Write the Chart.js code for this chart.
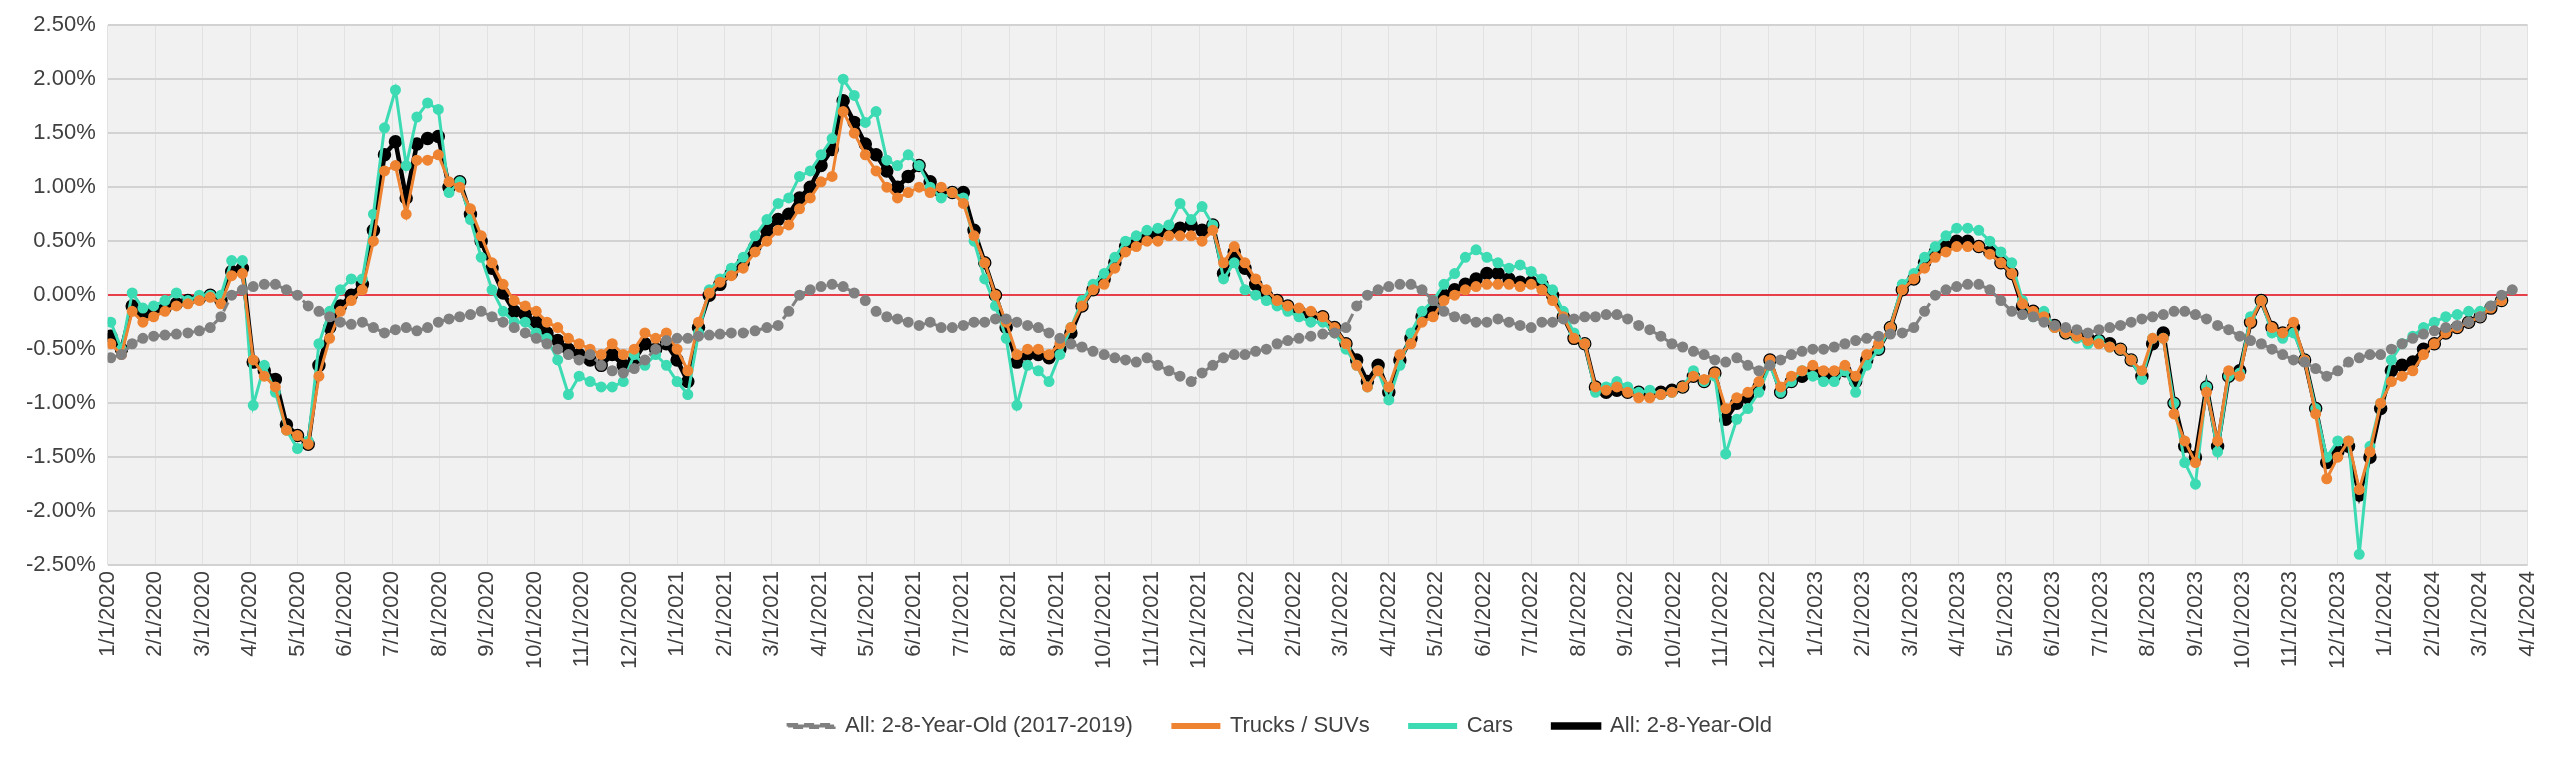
<!DOCTYPE html>
<html>
<head>
<meta charset="utf-8">
<script src="https://cdn.jsdelivr.net/npm/chart.js@4.4.1/dist/chart.umd.min.js"></script>
<style>
  html, body { margin: 0; padding: 0; background: #fff; }
  #wrap { width: 2560px; height: 757px; }
</style>
</head>
<body>
<div id="wrap"><canvas id="chartCanvas"></canvas></div>
<script>
// Month tick labels (x axis)
var monthLabels = []
for (var y = 2020; y <= 2024; y++) {
  for (var m = 1; m <= 12; m++) {
    if (y === 2024 && m > 4) break
    monthLabels.push(m + '/1/' + y)
  }
}

var firstWeek = new Date(2020, 0, 3)

// Weekly values, % change
var baseline = [
  -0.58,-0.55,-0.45,-0.40,-0.38,-0.37,-0.36,-0.35,-0.33,-0.30,-0.20,0.00,0.05,0.08,0.10,0.10,0.05,0.00,-0.10,-0.15,-0.20,-0.25,-0.27,-0.25,-0.30,-0.35,-0.32,-0.30,-0.33,-0.30,-0.25,-0.22,-0.20,-0.18,-0.15,-0.20,-0.25,-0.30,-0.35,-0.40,-0.45,-0.50,-0.55,-0.60,-0.55,-0.65,-0.70,-0.72,-0.68,-0.60,-0.50,-0.42,
  -0.40,-0.40,-0.38,-0.37,-0.36,-0.35,-0.35,-0.33,-0.30,-0.28,-0.15,0.00,0.05,0.08,0.10,0.08,0.02,-0.05,-0.15,-0.20,-0.22,-0.25,-0.28,-0.25,-0.30,-0.30,-0.28,-0.25,-0.25,-0.22,-0.22,-0.25,-0.28,-0.30,-0.35,-0.40,-0.45,-0.48,-0.52,-0.55,-0.58,-0.60,-0.62,-0.58,-0.65,-0.70,-0.75,-0.80,-0.72,-0.65,-0.58,-0.55,
  -0.55,-0.52,-0.50,-0.45,-0.42,-0.40,-0.38,-0.36,-0.35,-0.30,-0.10,0.00,0.05,0.08,0.10,0.10,0.05,-0.05,-0.15,-0.20,-0.22,-0.25,-0.25,-0.22,-0.25,-0.28,-0.30,-0.25,-0.25,-0.22,-0.22,-0.20,-0.20,-0.18,-0.18,-0.22,-0.28,-0.32,-0.38,-0.45,-0.48,-0.52,-0.55,-0.60,-0.62,-0.58,-0.65,-0.70,-0.65,-0.60,-0.55,-0.52,
  -0.50,-0.50,-0.48,-0.45,-0.42,-0.40,-0.38,-0.36,-0.35,-0.30,-0.15,0.00,0.05,0.08,0.10,0.10,0.05,-0.05,-0.15,-0.18,-0.20,-0.25,-0.28,-0.30,-0.32,-0.35,-0.32,-0.30,-0.28,-0.25,-0.22,-0.20,-0.18,-0.15,-0.15,-0.18,-0.22,-0.28,-0.32,-0.38,-0.42,-0.45,-0.50,-0.55,-0.60,-0.62,-0.68,-0.75,-0.70,-0.62,-0.58,-0.55,
  -0.55,-0.50,-0.45,-0.40,-0.36,-0.33,-0.30,-0.28,-0.25,-0.20,-0.10,0.00,0.05
]

var trucks = [
  -0.45,-0.55,-0.15,-0.25,-0.20, -0.15,-0.10,-0.08,-0.05, -0.02,-0.08,0.18,0.20,-0.60, -0.75,-0.85,-1.25,-1.30,
  -1.38,-0.75,-0.40,-0.15,-0.05, 0.05,0.50,1.15,1.20,0.75, 1.25,1.25,1.30,1.05, 1.00,0.80,0.55,0.30,0.10,
  -0.05,-0.10,-0.15,-0.25, -0.30,-0.40,-0.45,-0.50,-0.55, -0.45,-0.55,-0.50,-0.35, -0.40,-0.35,-0.50,-0.70,-0.25,
  0.02,0.12,0.18,0.25, 0.40,0.50,0.60,0.65, 0.80,0.90,1.05,1.10,1.70, 1.50,1.30,1.15,1.00, 0.90,0.95,1.00,0.95,
  1.00,0.95,0.85,0.55,0.30, 0.00,-0.25,-0.55,-0.50, -0.50,-0.55,-0.45,-0.30, -0.10,0.05,0.10,0.25,
  0.40,0.45,0.50,0.50,0.55, 0.55,0.55,0.50,0.60, 0.30,0.45,0.30,0.15,
  0.05,-0.05,-0.10,-0.12,-0.15, -0.20,-0.30,-0.45,-0.65, -0.85,-0.70,-0.85,-0.55, -0.45,-0.25,-0.20,-0.05,
  0.00,0.05,0.08,0.10,0.10, 0.10,0.08,0.10,0.05, -0.05,-0.20,-0.40,-0.45, -0.85,-0.88,-0.85,-0.90,
  -0.95,-0.95,-0.92,-0.90,-0.85, -0.75,-0.78,-0.72,-1.05, -0.95,-0.90,-0.80,-0.60, -0.85,-0.75,-0.70,-0.65,-0.70,
  -0.70,-0.65,-0.75,-0.55, -0.45,-0.30,0.05,0.15, 0.25,0.35,0.40,0.45,0.45, 0.45,0.38,0.30,0.20,
  -0.08,-0.15,-0.20,-0.30, -0.35,-0.38,-0.42,-0.45,-0.48, -0.50,-0.60,-0.70,-0.40, -0.40,-1.10,-1.35,-1.55,
  -0.90,-1.35,-0.70,-0.75, -0.25,-0.05,-0.30,-0.35,-0.25, -0.60,-1.10,-1.70,-1.50, -1.35,-1.80,-1.45,-1.00,
  -0.80,-0.75,-0.70,-0.55,-0.45, -0.35,-0.30,-0.25,-0.20, -0.12,-0.05
]

var cars = [
  -0.25,-0.50,0.02,-0.12,-0.10, -0.05,0.02,-0.05,0.00, 0.00,0.00,0.32,0.32,-1.02, -0.65,-0.90,-1.25,-1.42,
  -1.35,-0.45,-0.15,0.05,0.15, 0.15,0.75,1.55,1.90,1.20, 1.65,1.78,1.72,0.95, 1.05,0.70,0.35,0.05,-0.15,
  -0.25,-0.25,-0.35,-0.40, -0.60,-0.92,-0.75,-0.80,-0.85, -0.85,-0.80,-0.55,-0.65, -0.55,-0.65,-0.80,-0.92,-0.35,
  0.05,0.15,0.25,0.35, 0.55,0.70,0.85,0.90, 1.10,1.15,1.30,1.45,2.00, 1.85,1.60,1.70,1.25, 1.20,1.30,1.20,1.00,
  0.90,0.95,0.90,0.50,0.15, -0.10,-0.40,-1.02,-0.65, -0.70,-0.80,-0.55,-0.30, -0.05,0.10,0.20,0.35,
  0.50,0.55,0.60,0.62,0.65, 0.85,0.70,0.82,0.65, 0.15,0.30,0.05,0.00,
  -0.05,-0.10,-0.15,-0.20,-0.25, -0.25,-0.35,-0.50,-0.65, -0.85,-0.70,-0.97,-0.65, -0.35,-0.15,-0.05,0.10,
  0.20,0.35,0.42,0.35,0.30, 0.25,0.28,0.22,0.15, 0.05,-0.15,-0.35,-0.45, -0.90,-0.85,-0.80,-0.85,
  -0.90,-0.88,-0.92,-0.90,-0.85, -0.70,-0.80,-0.75,-1.47, -1.15,-1.05,-0.90,-0.65, -0.90,-0.80,-0.70,-0.75,-0.80,
  -0.80,-0.70,-0.90,-0.65, -0.50,-0.30,0.10,0.20, 0.35,0.45,0.55,0.62,0.62, 0.60,0.50,0.40,0.30,
  -0.05,-0.20,-0.15,-0.30, -0.35,-0.40,-0.45,-0.42,-0.48, -0.50,-0.60,-0.78,-0.40, -0.40,-1.00,-1.55,-1.75,
  -0.85,-1.45,-0.75,-0.72, -0.20,-0.05,-0.35,-0.40,-0.35, -0.60,-1.05,-1.50,-1.35, -1.35,-2.40,-1.40,-1.00,
  -0.60,-0.45,-0.38,-0.30,-0.25, -0.20,-0.18,-0.15,-0.15, -0.10,-0.05
]

var allAges = [
  -0.38,-0.50,-0.10,-0.18,-0.15, -0.12,-0.08,-0.05,-0.03, 0.00,-0.05,0.22,0.25,-0.62, -0.70,-0.78,-1.20,-1.30,
  -1.38,-0.65,-0.30,-0.10,0.00, 0.10,0.60,1.30,1.42,0.90, 1.40,1.45,1.47,1.00, 1.05,0.75,0.50,0.25,0.02,
  -0.15,-0.18,-0.25,-0.35, -0.42,-0.50,-0.55,-0.60,-0.65, -0.55,-0.65,-0.60,-0.45, -0.50,-0.45,-0.60,-0.80,-0.30,
  0.00,0.10,0.20,0.30, 0.45,0.60,0.70,0.75, 0.90,1.00,1.20,1.35,1.80, 1.60,1.40,1.30,1.15, 1.00,1.10,1.20,1.05,
  0.95,0.95,0.95,0.60,0.30, 0.00,-0.30,-0.62,-0.55, -0.55,-0.58,-0.50,-0.35, -0.10,0.05,0.15,0.30,
  0.45,0.50,0.55,0.58,0.60, 0.62,0.65,0.60,0.65, 0.20,0.40,0.25,0.10,
  0.00,-0.05,-0.10,-0.15,-0.18, -0.20,-0.30,-0.45,-0.60, -0.80,-0.65,-0.90,-0.60, -0.40,-0.20,-0.15,0.00,
  0.05,0.10,0.15,0.20,0.20, 0.15,0.12,0.12,0.10, 0.00,-0.20,-0.40,-0.45, -0.85,-0.90,-0.88,-0.90,
  -0.90,-0.92,-0.90,-0.88,-0.85, -0.75,-0.80,-0.72,-1.15, -1.00,-0.95,-0.85,-0.60, -0.90,-0.80,-0.75,-0.70,-0.72,
  -0.75,-0.70,-0.80,-0.60, -0.50,-0.30,0.05,0.15, 0.30,0.40,0.45,0.50,0.50, 0.45,0.40,0.30,0.20,
  -0.10,-0.15,-0.20,-0.28, -0.35,-0.38,-0.40,-0.42,-0.45, -0.50,-0.60,-0.75,-0.45, -0.35,-1.00,-1.40,-1.50,
  -0.85,-1.40,-0.75,-0.70, -0.25,-0.05,-0.30,-0.35,-0.30, -0.60,-1.05,-1.55,-1.45, -1.40,-1.85,-1.50,-1.05,
  -0.70,-0.65,-0.62,-0.50,-0.45, -0.35,-0.30,-0.25,-0.20, -0.12,-0.05
]

// week index -> position on the month axis
function weekPos(i) {
  var d = new Date(firstWeek.getTime() + i * 7 * 86400000)
  var mIdx = (d.getFullYear() - 2020) * 12 + d.getMonth()
  var days = new Date(d.getFullYear(), d.getMonth() + 1, 0).getDate()
  return mIdx + (d.getDate() - 1) / days
}

function toPoints(arr) {
  return arr.map(function(v, i) { return { x: weekPos(i), y: v } })
}

function series(label, arr, color, width, radius, dash) {
  return {
    label: label,
    data: toPoints(arr),
    borderColor: color,
    backgroundColor: color,
    pointBackgroundColor: color,
    pointBorderColor: color,
    borderWidth: width,
    pointRadius: radius,
    borderDash: dash || [],
    tension: 0
  }
}

var plotBg = {
  id: 'plotBg',
  beforeDraw: function(chart) {
    var a = chart.chartArea
    var ctx = chart.ctx
    ctx.save()
    ctx.fillStyle = '#f1f1f1'
    ctx.fillRect(a.left, a.top, a.right - a.left, a.bottom - a.top)
    ctx.restore()
  }
}

var tickFont = { family: 'Liberation Sans', size: 22 }

var ctx = document.getElementById('chartCanvas').getContext('2d')
new Chart(ctx, {
  type: 'line',
  data: {
    datasets: [
      series('All: 2-8-Year-Old (2017-2019)', baseline, '#808080', 3, 4, [10, 6]),
      series('Trucks / SUVs', trucks, '#ee8332', 3, 4),
      series('Cars', cars, '#3ddbb4', 3, 4),
      series('All: 2-8-Year-Old', allAges, '#000000', 4.5, 4.5)
    ]
  },
  options: {
    responsive: true,
    maintainAspectRatio: false,
    animation: false,
    layout: { padding: { left: 14, right: 14, top: 4, bottom: 10 } },
    plugins: {
      legend: {
        position: 'bottom',
        labels: {
          color: '#404040',
          font: tickFont,
          boxWidth: 46,
          boxHeight: 3,
          padding: 40
        }
      },
      tooltip: { enabled: false }
    },
    scales: {
      x: {
        type: 'linear',
        min: 0,
        max: monthLabels.length - 1,
        afterBuildTicks: function(axis) {
          axis.ticks = monthLabels.map(function(l, i) { return { value: i } })
        },
        ticks: {
          autoSkip: false,
          maxRotation: 90,
          minRotation: 90,
          padding: 6,
          color: '#404040',
          font: tickFont,
          callback: function(v) { return monthLabels[v] }
        },
        grid: { color: '#e2e2e2', drawTicks: false },
        border: { display: false }
      },
      y: {
        min: -2.5,
        max: 2.5,
        afterBuildTicks: function(axis) {
          var t = []
          for (var k = -10; k <= 10; k++) t.push({ value: k * 0.25 })
          axis.ticks = t
        },
        ticks: {
          color: '#404040',
          font: tickFont,
          padding: 12,
          callback: function(v) { return v.toFixed(2) + '%' }
        },
        grid: {
          drawTicks: false,
          lineWidth: 2,
          color: function(c) { return Math.abs(c.tick.value) < 1e-9 ? '#e8404a' : '#d2d2d2' }
        },
        border: { display: false }
      }
    }
  },
  plugins: [plotBg]
})
</script>
</body>
</html>
